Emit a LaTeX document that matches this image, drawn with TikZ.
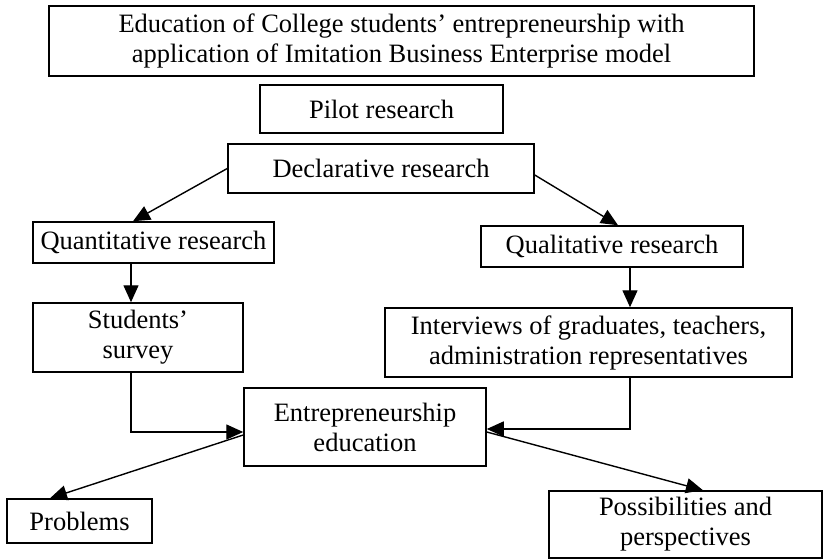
\documentclass[tikz,border=0pt]{standalone}
\usepackage{fontspec}
\setmainfont{Liberation Serif}
\usetikzlibrary{arrows.meta}

\begin{document}
\begin{tikzpicture}[x=1pt,y=-1pt]

      \useasboundingbox (0,0) rectangle (823,559);

      \begin{scope}[every node/.style={draw,rectangle,line width=1.5pt,inner sep=0pt,align=center,font=\fontsize{26.5}{30}\selectfont}]
        \node[minimum width=705,minimum height=70] (1) at (401.5,41) {Education of College students’ entrepreneurship with\\application of Imitation Business Enterprise model};
        \node[minimum width=243,minimum height=48] (2) at (381.5,109) {Pilot research};
        \node[minimum width=306,minimum height=49] (3) at (381,168.5) {Declarative research};
        \node[minimum width=241,minimum height=41] (4) at (153.5,242.5) {Quantitative research};
        \node[minimum width=262,minimum height=41] (5) at (612,246.5) {Qualitative research};
        \node[minimum width=210,minimum height=69] (6) at (138,337.5) {Students’\\survey};
        \node[minimum width=407,minimum height=69] (7) at (588.5,342.5) {Interviews of graduates, teachers,\\administration representatives};
        \node[minimum width=242,minimum height=78] (8) at (365,427) {Entrepreneurship\\education};
        \node[minimum width=145,minimum height=44] (9) at (79.5,521) {Problems};
        \node[minimum width=273,minimum height=67] (10) at (685.5,524.5) {Possibilities and\\perspectives};
      \end{scope}

      \begin{scope}[every edge/.style={draw,line width=1.4pt,-{Triangle[length=17pt,width=15pt]}}]
        \path (3.west) edge ([xshift=-20.5]4.north);
        \path ([yshift=-6.5]3.east) edge ([xshift=6]5.north);
        \path ([xshift=-22.5]4.south) edge ([xshift=-7]6.north);
        \path ([xshift=18]5.south) edge ([xshift=41.5]7.north);
        \path ([xshift=-7]6.south) edge[to path={|- (\tikztotarget)}] ([yshift=-5]8.west);
        \path ([xshift=41.5]7.south) edge[to path={|- (\tikztotarget)}] ([yshift=-2]8.east);
        \path ([yshift=-8]8.west) edge ([xshift=-29.5]9.north);
        \path ([yshift=-5]8.east) edge ([xshift=17.5]10.north);
      \end{scope}

    \end{tikzpicture}
\end{document}
